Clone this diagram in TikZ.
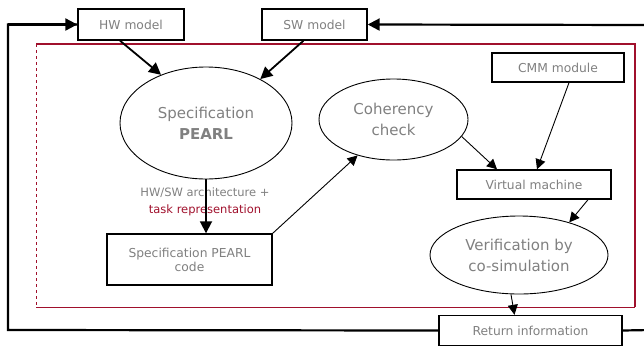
\documentclass[tikz,border=0pt]{standalone}
\usepackage{fontspec}
\setmainfont{DejaVu Sans}
\usetikzlibrary{arrows.meta,calc,shapes.geometric}
\definecolor{txtgray}{HTML}{808080}
\definecolor{framered}{HTML}{A0102C}
\begin{document}
\begin{tikzpicture}[x=1pt,y=-1pt,
  box/.style={draw=black,line width=1.4pt,fill=white,inner sep=0pt,
    font=\fontsize{12.3}{14}\selectfont,text=txtgray,align=center},
  oval/.style={ellipse,draw=black,line width=0.9pt,inner sep=0pt,
    font=\fontsize{15}{21}\selectfont,text=txtgray,align=center},
  thick arrow/.style={line width=1.8pt,-{Triangle[length=12pt,width=12pt]}},
  thin arrow/.style={line width=0.9pt,-{Triangle[length=10pt,width=10pt]}},
  feedback/.style={line width=2.2pt}
]
\useasboundingbox (0,0) rectangle (644,346);

% enclosing frame of the design flow
\draw[framered,line width=0.8pt,dashed] (36,44) -- (36,307);
\draw[framered,line width=1pt] (36,307) -- (635,307);
\draw[framered,line width=1.6pt] (36,44) -- (635,44) -- (635,307);

% input models and modules
\node[box,minimum width=106,minimum height=31] (hw) at (131,24.5) {HW model};
\node[box,minimum width=105,minimum height=31] (sw) at (314.5,24.5) {SW model};
\node[box,minimum width=132,minimum height=29] (cmm) at (558,67.5) {CMM module};
\node[box,minimum width=154,minimum height=29] (vm) at (534,184.5) {Virtual machine};
\node[box,minimum width=165,minimum height=51] (code) at (189.5,259.5) {Specification PEARL\\code};
\node[box,minimum width=183,minimum height=30] (ret) at (530.5,330.5) {Return information};

% processing steps
\node[oval,minimum width=172,minimum height=112] (spec) at (206,123)
  {Specification\\\textbf{PEARL}};
\node[oval,minimum width=149,minimum height=81] (coh) at (393.5,119.5)
  {Coherency\\check};
\node[oval,minimum width=178,minimum height=78] (ver) at (519,255)
  {Verification by\\co-simulation};

% label on the specification-to-code arrow
\node[font=\fontsize{11.5}{17}\selectfont,align=center,inner sep=0pt] (lbl) at (205,202)
  {\textcolor{txtgray}{HW/SW architecture +}\\\textcolor{framered}{task representation}};

% connectors
\draw[thick arrow] ($(hw.south)+(-11,0)$) -- (spec.133);
\draw[thick arrow] ($(sw.south)+(-11,0)$) -- (spec.39);
\draw[thick arrow] (spec.south) -- (spec.south |- code.north);
\draw[thin arrow] (code.north east) -- (coh.-135);
\draw[thin arrow] (coh.-14) -- ($(vm.north)+(-37,0)$);
\draw[thin arrow] ($(cmm.south)+(11,0)$) -- ($(vm.north)+(3,0)$);
\draw[thin arrow] ($(vm.south)+(54,0)$) -- (ver.33);
\draw[thin arrow] ($(ver.south)+(-8,0)$) -- ($(ret.north)+(-16,0)$);

% feedback loop back to the models
\coordinate (lc) at (8,330);
\coordinate (re) at (650,330);
\coordinate (te) at (650,25);
\draw[feedback] (ret.west) -- (lc) |- (hw.west);
\draw[feedback,-{Triangle[length=12pt,width=12pt]}] (lc |- hw.west) -- (hw.west);
\draw[feedback] (ret.east) -- (re);
\draw[feedback,-{Triangle[length=12pt,width=12pt]}] (te) -- (sw.east);
\end{tikzpicture}
\end{document}
